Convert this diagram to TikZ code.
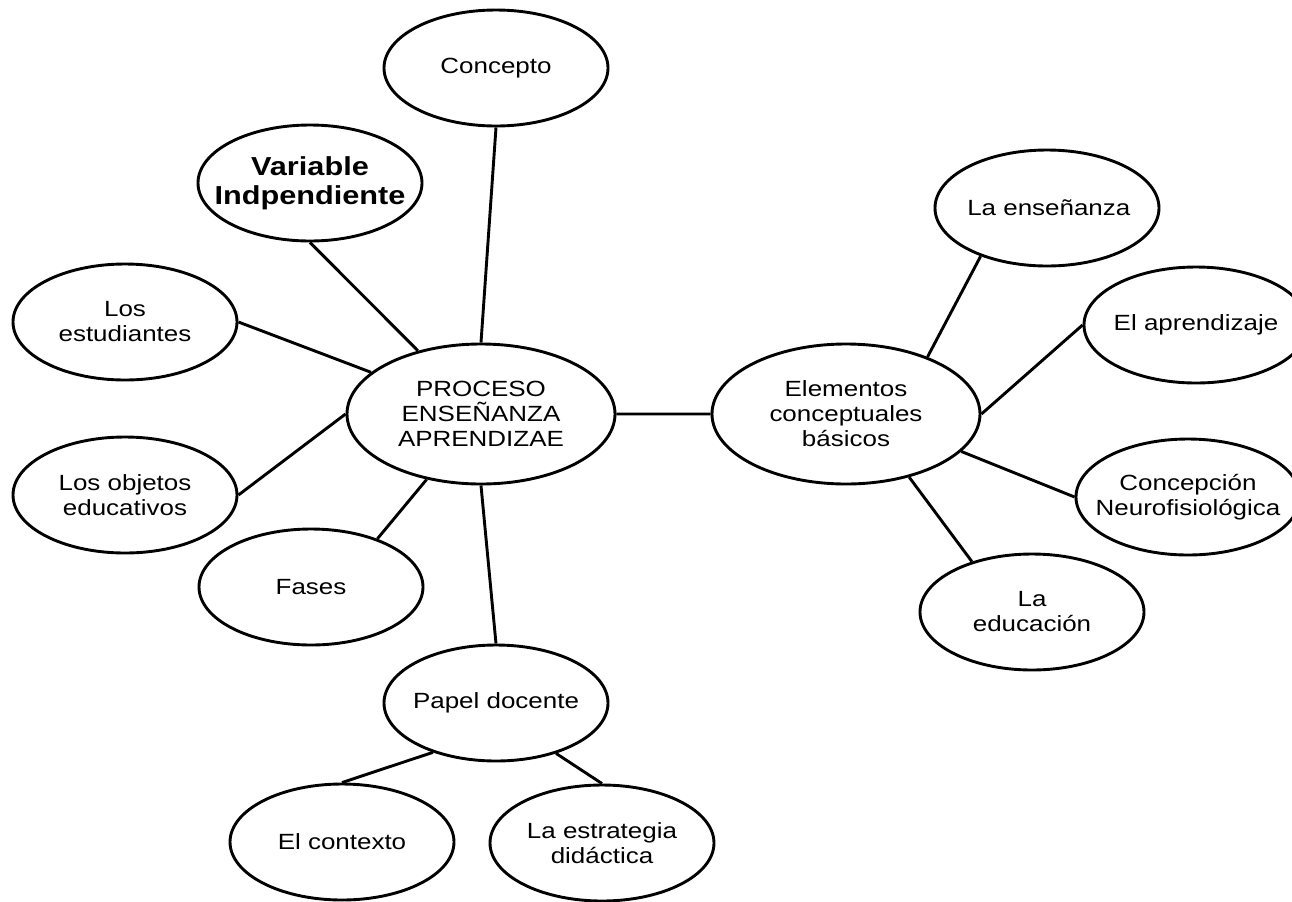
\documentclass[tikz,border=0pt]{standalone}
\usepackage{fontspec}
\setmainfont{Liberation Sans}[FakeStretch=1.18]
\usetikzlibrary{
		shapes.geometric
	}
\tikzset{
		idea/.style={ellipse, draw, line width=1.45pt, minimum width=112pt, minimum height=58pt,
			inner xsep=-8pt, inner ysep=0pt, align=center, font=\fontsize{11}{12.5}\selectfont},
		bigidea/.style={idea, minimum width=134pt, minimum height=70pt},
		link/.style={line width=1.45pt}
	}

\begin{document}
\begin{tikzpicture}[x=0.5pt, y=-0.5pt] % (one unit = one pixel of the page, y going down)
		\useasboundingbox (0,0) rectangle (1292,901);
		% the two centres
		\node[bigidea] (proceso) at (481,414) {PROCESO\\ENSEÑANZA\\APRENDIZAE};
		\node[bigidea] (elementos) at (846,414) {Elementos\\conceptuales\\básicos};
		% round the first centre
		\node[idea] (concepto) at (496,68) {Concepto};
		\node[idea, inner xsep=-11pt, font=\fontsize{13}{14.5}\bfseries] (variable) at (310,183) {Variable\\Indpendiente};
		\node[idea] (estudiantes) at (125,322) {Los\\estudiantes};
		\node[idea] (objetos) at (125,495) {Los objetos\\educativos};
		\node[idea] (fases) at (311,587) {Fases};
		\node[idea] (papel) at (496,703) {Papel docente};
		\node[idea] (contexto) at (342,842) {El contexto};
		\node[idea] (estrategia) at (602,843) {La estrategia\\didáctica};
		% round the second centre
		\node[idea] (ensenanza) at (1047,208) {\,La enseñanza};
		\node[idea] (aprendizaje) at (1196,325) {El aprendizaje};
		\node[idea] (concepcion) at (1188,497) {Concepción\\Neurofisiológica};
		\node[idea] (educacion) at (1032,612) {La\\educación};
		\draw[link]
		  (concepto.south) -- (proceso.north)
		  (variable.south) -- (proceso)
		  (estudiantes.east) -- (proceso)
		  (objetos.east) -- (proceso.west)
		  (fases.36) -- (proceso)
		  (proceso.south) -- (papel.north)
		  (papel.218) -- (contexto.north)
		  (papel.320) -- (estrategia.north)
		  (proceso.east) -- (elementos.west) % the bridge
		  (elementos.35) -- (ensenanza.216)
		  (elementos.east) -- (aprendizaje.west)
		  (elementos.342) -- (concepcion.west)
		  (elementos.315) -- (educacion.140);
	\end{tikzpicture}
\end{document}
